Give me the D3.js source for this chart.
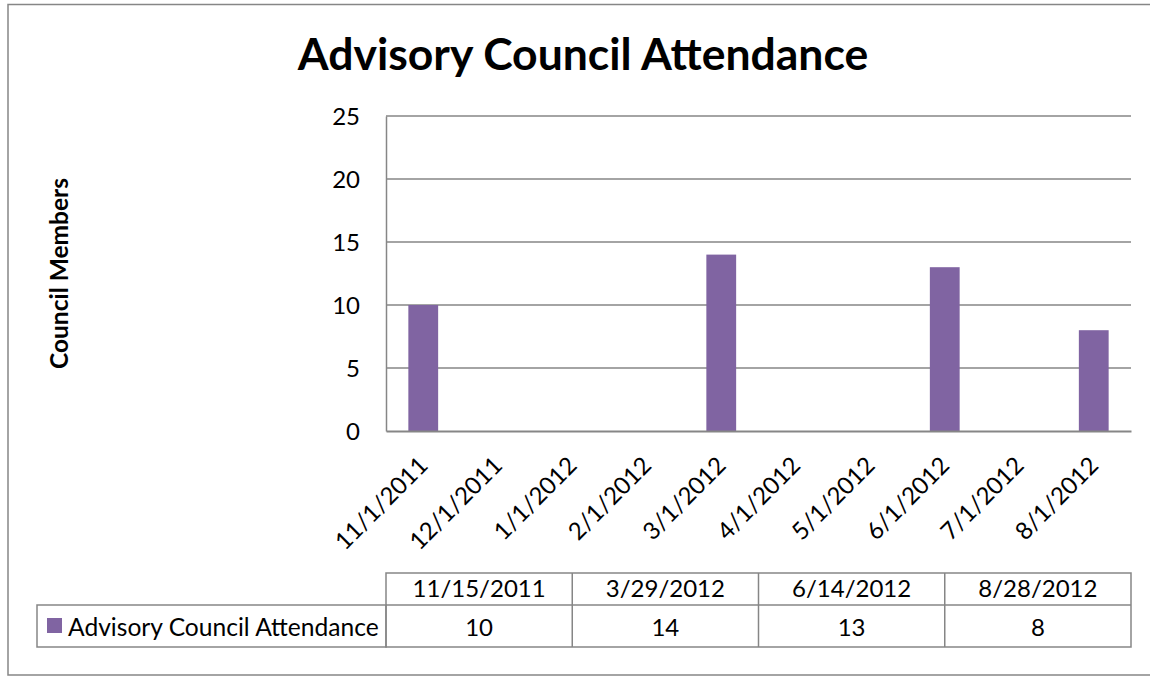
<!DOCTYPE html>
<html>
<head>
<meta charset="utf-8">
<script src="https://cdn.jsdelivr.net/npm/d3@7"></script>
<style>
  html, body { margin: 0; padding: 0; background: #fff; }
  svg { display: block; font-family: Lato, "Open Sans", sans-serif; }
</style>
</head>
<body>
<svg id="chart" width="1150" height="676"></svg>
<script>
// ---- data ----
const title = "Advisory Council Attendance";
const yAxisTitle = "Council Members";
const seriesName = "Advisory Council Attendance";
const monthLabels = ["11/1/2011","12/1/2011","1/1/2012","2/1/2012","3/1/2012","4/1/2012","5/1/2012","6/1/2012","7/1/2012","8/1/2012"];
const meetingDates = ["11/15/2011","3/29/2012","6/14/2012","8/28/2012"];
const attendance = [10, 14, 13, 8];
const yTicks = [0, 5, 10, 15, 20, 25];

// ---- layout ----
const svg = d3.select("#chart");
const W = 1150, H = 676;
const plot = { left: 386, right: 1131, top: 116, bottom: 431 };
const gridColor = "#868686";
const barColor = "#8064A2";
const fontSize = 24;

// outer border
svg.append("rect").attr("x", 8).attr("y", 4.5).attr("width", W).attr("height", 670.5)
  .attr("fill", "none").attr("stroke", gridColor).attr("stroke-width", 1.5);

const monthOf = d => { const p = d.split("/"); return p[0] + "/1/" + p[2]; };

const x = d3.scaleBand().domain(monthLabels).range([plot.left, plot.right])
  .paddingInner(0.6).paddingOuter(0.3);
const xCat = d3.scaleBand().domain(monthLabels).range([plot.left, plot.right]);
const y = d3.scaleLinear().domain([0, 25]).range([plot.bottom, plot.top]);

// gridlines
svg.append("g").selectAll("line").data(yTicks.filter(t => t > 0)).join("line")
  .attr("x1", plot.left).attr("x2", plot.right)
  .attr("y1", d => y(d)).attr("y2", d => y(d))
  .attr("stroke", gridColor).attr("stroke-width", 1.5);

// bars
const points = meetingDates.map((d, i) => ({ date: d, month: monthOf(d), value: attendance[i] }));
svg.append("g").selectAll("rect").data(points).join("rect")
  .attr("x", d => x(d.month)).attr("width", x.bandwidth())
  .attr("y", d => y(d.value)).attr("height", d => y(0) - y(d.value))
  .attr("fill", barColor);

// y axis
const yAxis = d3.axisLeft(y).tickValues(yTicks).tickSize(0).tickPadding(26);
const gy = svg.append("g").attr("transform", `translate(${plot.left},0)`).call(yAxis);
gy.select(".domain").attr("stroke", gridColor).attr("stroke-width", 1.5);
gy.selectAll("text").attr("font-size", fontSize).attr("font-family", "Lato").attr("fill", "#000").attr("dy", "0.36em");

// x axis line
const xAxis = d3.axisBottom(xCat).tickSize(0).tickFormat("");
const gx = svg.append("g").attr("transform", `translate(0,${plot.bottom})`).call(xAxis);
gx.select(".domain").attr("stroke", gridColor).attr("stroke-width", 2);

// rotated month labels
svg.append("g").selectAll("text").data(monthLabels).join("text")
  .attr("transform", d => `translate(${xCat(d) + xCat.bandwidth() / 2 + 6},467) rotate(-45)`)
  .attr("text-anchor", "end").attr("font-size", fontSize).text(d => d);

// title
svg.append("text").attr("x", 583).attr("y", 70).attr("text-anchor", "middle")
  .attr("font-size", 44.5).attr("font-weight", "bold").text(title);

// y axis title
svg.append("text").attr("transform", `translate(68,${(plot.top + plot.bottom) / 2}) rotate(-90)`)
  .attr("text-anchor", "middle").attr("font-size", 24.5).attr("font-weight", "bold").text(yAxisTitle);

// data table
const tCol = d3.scaleBand().domain(meetingDates).range([plot.left, plot.right]);
const rowTop = 573, rowMid = 605, rowBot = 647, legendLeft = 37;
const tbl = svg.append("g").attr("stroke", gridColor).attr("stroke-width", 1.5).attr("fill", "none");
tbl.append("rect").attr("x", plot.left).attr("y", rowTop).attr("width", plot.right - plot.left).attr("height", rowBot - rowTop);
tbl.append("rect").attr("x", legendLeft).attr("y", rowMid).attr("width", plot.left - legendLeft).attr("height", rowBot - rowMid);
tbl.append("line").attr("x1", plot.left).attr("x2", plot.right).attr("y1", rowMid).attr("y2", rowMid);
tbl.selectAll("line.col").data(meetingDates.slice(1)).join("line").attr("class", "col")
  .attr("x1", d => tCol(d)).attr("x2", d => tCol(d)).attr("y1", rowTop).attr("y2", rowBot);

svg.append("g").selectAll("text").data(meetingDates).join("text")
  .attr("x", d => tCol(d) + tCol.bandwidth() / 2).attr("y", 597)
  .attr("text-anchor", "middle").attr("font-size", fontSize).text(d => d);
svg.append("g").selectAll("text").data(points).join("text")
  .attr("x", d => tCol(d.date) + tCol.bandwidth() / 2).attr("y", 636)
  .attr("text-anchor", "middle").attr("font-size", fontSize).text(d => d.value);

// legend key in table
svg.append("rect").attr("x", 47).attr("y", 618).attr("width", 15).attr("height", 15).attr("fill", barColor);
svg.append("text").attr("x", 68).attr("y", 636).attr("font-size", 24.6).text(seriesName);
</script>
</body>
</html>
